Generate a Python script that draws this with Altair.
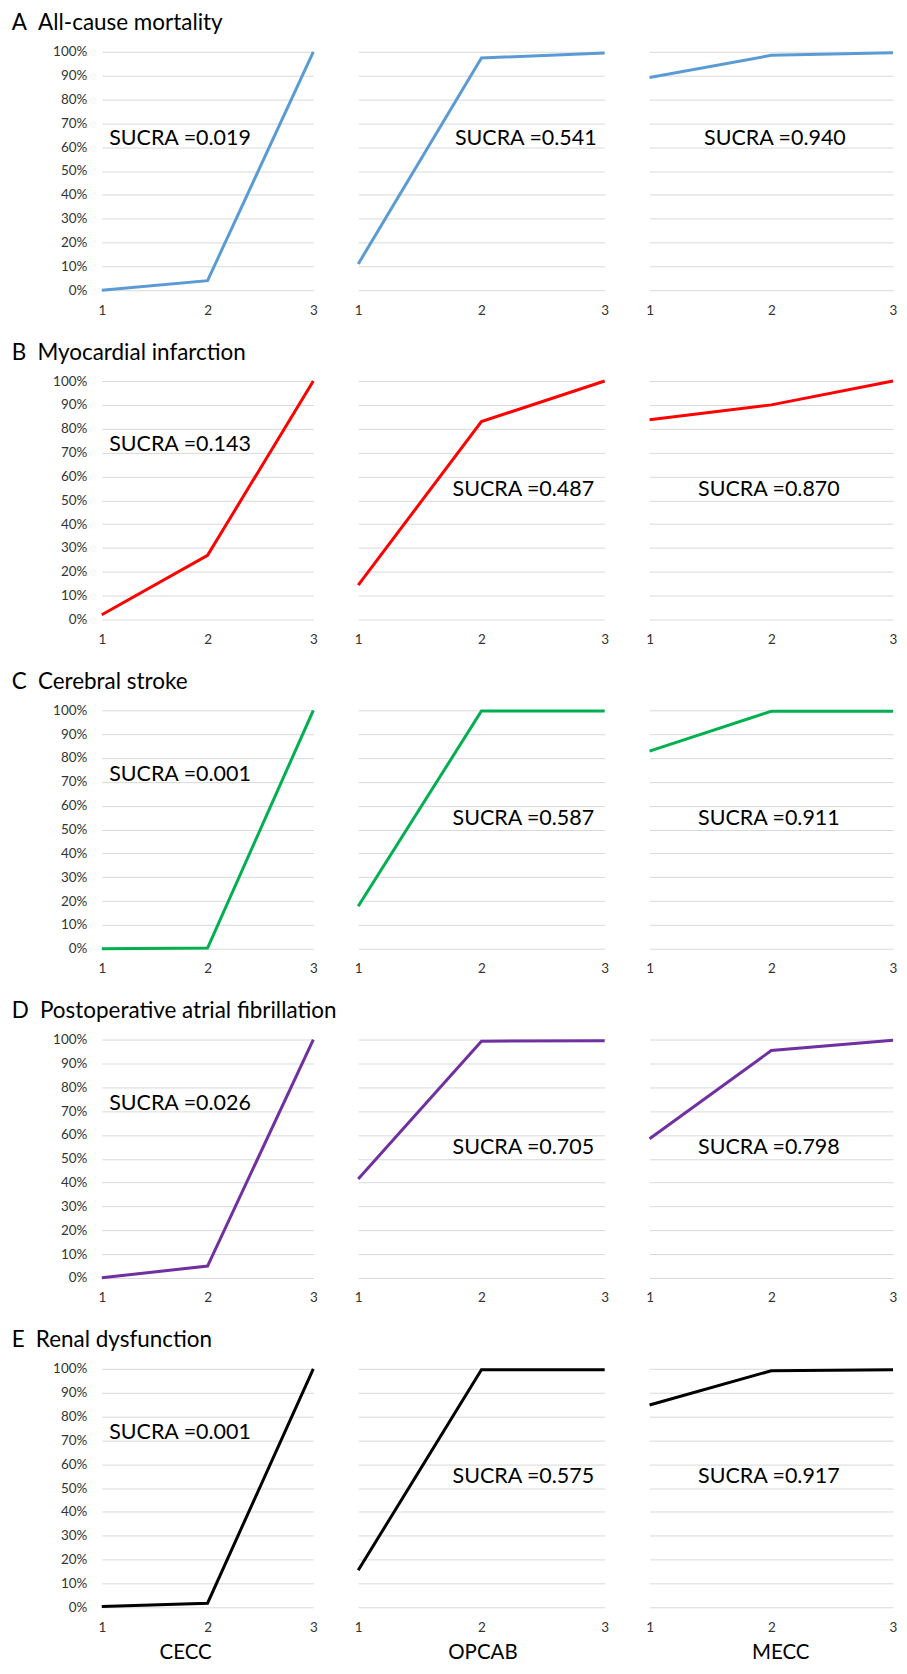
import altair as alt
import pandas as pd

ranks = [1, 2, 3]
treatments = ["CECC", "OPCAB", "MECC"]
outcome_letters = ["A", "B", "C", "D", "E"]
outcome_names = ["All-cause mortality", "Myocardial infarction", "Cerebral stroke",
                 "Postoperative atrial fibrillation", "Renal dysfunction"]
colors = ["#5B9BD5", "#FF0000", "#00B050", "#7030A0", "#000000"]

# cumulative ranking probability (%) at rank 1, 2, 3 for CECC, OPCAB, MECC
all_cause = [[0.0, 4.0, 100.0], [11.0, 97.4, 99.5], [89.2, 98.5, 99.6]]
myocardial = [[2.0, 26.9, 100.0], [14.4, 83.0, 100.0], [83.8, 90.0, 100.0]]
stroke = [[0.0, 0.3, 100.0], [17.8, 99.7, 99.7], [82.9, 99.6, 99.6]]
atrial_fib = [[0.1, 5.0, 100.0], [41.5, 99.3, 99.5], [58.4, 95.4, 99.7]]
renal = [[0.3, 1.7, 100.0], [15.5, 99.6, 99.6], [84.8, 99.2, 99.6]]
series = [all_cause, myocardial, stroke, atrial_fib, renal]

sucra = [["0.019", "0.541", "0.940"],
         ["0.143", "0.487", "0.870"],
         ["0.001", "0.587", "0.911"],
         ["0.026", "0.705", "0.798"],
         ["0.001", "0.575", "0.917"]]

# annotation anchors (rank, cumulative %) for the SUCRA labels
label_x = [[1.74, 2.36, 2.03]] + [[1.74, 2.34, 1.98]] * 4
label_y = [[63.3, 63.3, 63.3]] + [[73, 54.5, 54.5]] * 4

yticks = [i / 10 for i in range(11)]
panel_w = [212, 247, 244]
panel_h = 239
FONT = "Lato"
LABEL_COLOR = "#333333"
# horizontal position of the column captions (pixels from each panel's left edge)
caption_x = [83.5, 124.5, 131]


def panel(r, c):
    df = pd.DataFrame({"rank": ranks, "prob": [v / 100 for v in series[r][c]]})
    xaxis = alt.Axis(grid=False, ticks=False, tickSize=0, domain=False,
                     labelPadding=13, labelFontSize=13.5, labelFont=FONT,
                     labelColor=LABEL_COLOR, labelAngle=0, labelOverlap=False,
                     titleFontSize=20.5, titleFont=FONT, titleFontWeight="normal",
                     titleColor="#000000", titlePadding=9, titleX=caption_x[c],
                     titleAlign="center")
    xenc = alt.X("rank:O", scale=alt.Scale(type="point", padding=0),
                 axis=xaxis, title=treatments[c] if r == 4 else None)
    yaxis = alt.Axis(values=yticks, format=".0%", grid=True, gridColor="#D9D9D9",
                     gridWidth=1, ticks=False, tickSize=0, domain=False,
                     labels=(c == 0), labelPadding=15, labelFontSize=13.5,
                     labelFont=FONT, labelColor=LABEL_COLOR, labelOverlap=False)
    yenc = alt.Y("prob:Q", scale=alt.Scale(domain=[0, 1], nice=False), axis=yaxis, title=None)
    line = alt.Chart(df).mark_line(color=colors[r], strokeWidth=3).encode(x=xenc, y=yenc)
    tdf = pd.DataFrame({"pos": [label_x[r][c]], "prob": [label_y[r][c] / 100],
                        "label": ["SUCRA =" + sucra[r][c]]})
    text = alt.Chart(tdf).mark_text(font=FONT, fontSize=21.5, align="center",
                                    baseline="middle", color="#000000").encode(
        x=alt.X("pos:Q", scale=alt.Scale(domain=[1, 3], nice=False, zero=False), axis=None),
        y=yenc, text="label:N")
    return alt.layer(line, text).resolve_scale(x="independent").properties(
        width=panel_w[c], height=panel_h)


rows = []
for r in range(5):
    title = alt.TitleParams(outcome_letters[r] + "\u2002" + outcome_names[r], anchor="start",
                            fontSize=22.5, font=FONT, fontWeight="normal", color="#000000",
                            offset=10, dx=-41)
    rows.append(alt.hconcat(*[panel(r, c) for c in range(3)], spacing=45,
                            bounds="flush", title=title))

chart = alt.vconcat(*rows, spacing=24).properties(
    padding={"left": 3, "top": 2, "right": 0, "bottom": 0}
).configure(background="white").configure_view(strokeWidth=0)

chart.save("out.html", embed_options={"renderer": "svg", "actions": False})
